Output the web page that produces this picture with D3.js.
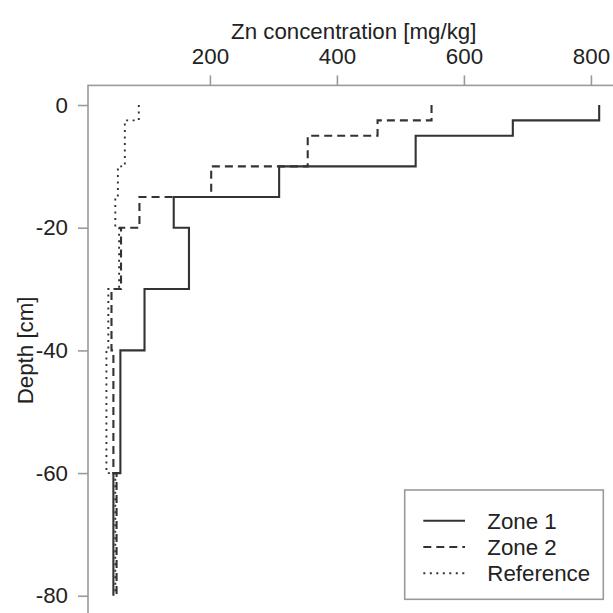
<!DOCTYPE html>
<html>
<head>
<meta charset="utf-8">
<script src="https://cdn.jsdelivr.net/npm/d3@7"></script>
<style>
  html, body { margin: 0; padding: 0; background: #fff; }
  svg { display: block; }
  text { font-family: "Liberation Sans", Arial, sans-serif; fill: #222; }
</style>
</head>
<body>
<svg id="chart" width="613" height="613"></svg>
<script>
// ---- data ----
const depthTop    = [0, -2.5, -5, -10, -15, -20, -30, -40, -60];
const depthBottom = [-2.5, -5, -10, -15, -20, -30, -40, -60, -80];
const zone1     = [813, 677, 524, 309, 143, 167, 97, 59, 48];
const zone2     = [549, 464, 354, 202, 89, 60, 45, 48, 53];
const reference = [88, 66, 66, 55, 51, 57, 40, 37, 51];
const seriesNames = ["Zone 1", "Zone 2", "Reference"];
const xTicks = [200, 400, 600, 800];
const yTicks = [0, -20, -40, -60, -80];
const xTitle = "Zn concentration [mg/kg]";
const yTitle = "Depth [cm]";

(function () {
  const svg = d3.select("#chart");
  const plotLeft = 88, plotTop = 85.4;
  const x = d3.scaleLinear().domain([8, 845]).range([plotLeft, 619.5]);
  const y = d3.scaleLinear().domain([3.2, -83.2]).range([plotTop, 615.4]);
  const FS = 22.3;
  const FONT = "Liberation Sans, Arial, sans-serif";
  const axisColor = "#9a9a9a";
  const lineColor = "#333";
  const fmt = d => String(d);

  // plot box
  svg.append("rect")
    .attr("x", x.range()[0]).attr("y", y.range()[0])
    .attr("width", x.range()[1] - x.range()[0])
    .attr("height", y.range()[1] - y.range()[0])
    .attr("fill", "none").attr("stroke", axisColor).attr("stroke-width", 1.6);

  // top axis
  const gx = svg.append("g").attr("transform", `translate(0,${plotTop})`)
    .call(d3.axisTop(x).tickValues(xTicks).tickSize(10).tickPadding(11).tickFormat(fmt));
  gx.select(".domain").remove();
  gx.selectAll("line").attr("stroke", axisColor).attr("stroke-width", 1.6);
  gx.selectAll("text").attr("font-size", FS).attr("font-family", FONT).attr("fill", "#222");

  // left axis
  const gy = svg.append("g").attr("transform", `translate(${plotLeft},0)`)
    .call(d3.axisLeft(y).tickValues(yTicks).tickSize(10).tickPadding(10).tickFormat(fmt));
  gy.select(".domain").remove();
  gy.selectAll("line").attr("stroke", axisColor).attr("stroke-width", 1.6);
  gy.selectAll("text").attr("font-size", FS).attr("font-family", FONT).attr("fill", "#222");

  // axis titles
  svg.append("text")
    .attr("x", (x.range()[0] + x.range()[1]) / 2).attr("y", 39)
    .attr("text-anchor", "middle").attr("font-size", FS).attr("font-family", FONT).text(xTitle);
  svg.append("text")
    .attr("transform", `translate(33,${(y.range()[0] + y.range()[1]) / 2}) rotate(-90)`)
    .attr("text-anchor", "middle").attr("font-size", FS).attr("font-family", FONT).text(yTitle);

  // step profiles
  const styles = [
    { dash: null, width: 2.1 },
    { dash: "8,5", width: 2.1 },
    { dash: "2,4.5", width: 1.9 }
  ];
  const allSeries = [zone1, zone2, reference];
  const line = d3.line().x(d => x(d[0])).y(d => y(d[1]));
  allSeries.forEach((vals, i) => {
    const pts = [];
    vals.forEach((v, k) => { pts.push([v, depthTop[k]]); pts.push([v, depthBottom[k]]); });
    svg.append("path")
      .attr("d", line(pts))
      .attr("fill", "none")
      .attr("stroke", lineColor)
      .attr("stroke-width", styles[i].width)
      .attr("stroke-dasharray", styles[i].dash);
  });

  // legend
  const lg = svg.append("g");
  lg.append("rect").attr("x", 404.7).attr("y", 490).attr("width", 198.6).attr("height", 109.3)
    .attr("fill", "#fff").attr("stroke", axisColor).attr("stroke-width", 1.6);
  seriesNames.forEach((name, i) => {
    const yy = 520.7 + i * 26.3;
    lg.append("line").attr("x1", 423.3).attr("x2", 465).attr("y1", yy).attr("y2", yy)
      .attr("stroke", lineColor).attr("stroke-width", styles[i].width)
      .attr("stroke-dasharray", styles[i].dash);
    lg.append("text").attr("x", 487.3).attr("y", yy).attr("dy", "0.35em")
      .attr("font-size", FS).attr("font-family", FONT).text(name);
  });
})();
</script>
</body>
</html>
